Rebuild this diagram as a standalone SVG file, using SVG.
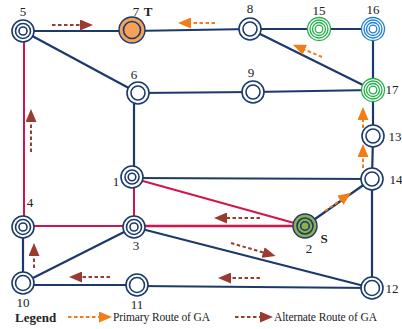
<svg xmlns="http://www.w3.org/2000/svg" width="402" height="329" viewBox="0 0 402 329">
  <style>
    .e { stroke: #1B3A6B; stroke-width: 2.2; fill: none; }
    .r { stroke: #D2164A; stroke-width: 2; fill: none; }
    .ring { fill: #fff; stroke: #1B3A6B; stroke-width: 1.6; }
    .in { fill: none; stroke: #1B3A6B; stroke-width: 1.6; }
    .g { fill: #fff; stroke: #22B04B; stroke-width: 1.3; }
    .gi { fill: none; stroke: #22B04B; stroke-width: 1.3; }
    .b { fill: #fff; stroke: #1E7FD4; stroke-width: 1.3; }
    .bi { fill: none; stroke: #1E7FD4; stroke-width: 1.3; }
    .lbl { font-family: "Liberation Serif", "Times New Roman", serif; font-size: 13px; fill: #222; text-anchor: middle; }
    .bold { font-weight: bold; }
    .pa { stroke: #F07D18; stroke-width: 2; stroke-dasharray: 3.5 2.5; fill: none; marker-end: url(#ha); }
    .aa { stroke: #9A3B32; stroke-width: 2; stroke-dasharray: 3.5 2.5; fill: none; marker-end: url(#hb); }
    .leg { font-family: "Liberation Serif", "Times New Roman", serif; font-size: 11.5px; fill: #222; }
    .legt { font-family: "Liberation Serif", "Times New Roman", serif; font-size: 13px; font-weight: bold; fill: #222; }
  </style>
  <defs>
    <marker id="ha" markerUnits="userSpaceOnUse" markerWidth="13" markerHeight="11" refX="2" refY="5.5" orient="auto">
      <path d="M0,0 L13,5.5 L0,11 Z" fill="#F07D18"/>
    </marker>
    <marker id="hb" markerUnits="userSpaceOnUse" markerWidth="13" markerHeight="11" refX="2" refY="5.5" orient="auto">
      <path d="M0,0 L13,5.5 L0,11 Z" fill="#9A3B32"/>
    </marker>
  </defs>

  <rect width="402" height="329" fill="#fff"/>

  <!-- links -->
  <g id="connectors">
    <line class="e" x1="23" y1="31" x2="132" y2="31"/>
    <line class="e" x1="132" y1="31" x2="250" y2="29"/>
    <line class="e" x1="250" y1="29" x2="319" y2="29"/>
    <line class="e" x1="319" y1="29" x2="373" y2="29"/>
    <line class="e" x1="373" y1="29" x2="373" y2="90"/>
    <line class="e" x1="250" y1="29" x2="373" y2="90"/>
    <line class="e" x1="23" y1="31" x2="138" y2="93"/>
    <line class="e" x1="138" y1="93" x2="253" y2="92"/>
    <line class="e" x1="253" y1="92" x2="373" y2="90"/>
    <line class="e" x1="134" y1="93" x2="134" y2="177"/>
    <line class="e" x1="373" y1="90" x2="373" y2="136"/>
    <line class="e" x1="373" y1="136" x2="372" y2="179"/>
    <line class="e" x1="132" y1="178" x2="372" y2="179"/>
    <line class="e" x1="305" y1="226" x2="372" y2="179"/>
    <line class="e" x1="372" y1="179" x2="372" y2="288"/>
    <line class="e" x1="134" y1="227" x2="372" y2="288"/>
    <line class="e" x1="134" y1="227" x2="23" y2="283"/>
    <line class="e" x1="23" y1="227" x2="23" y2="283"/>
    <line class="e" x1="23" y1="285" x2="137" y2="285"/>
    <line class="e" x1="137" y1="286" x2="372" y2="288"/>
    <line class="r" x1="24" y1="31" x2="24" y2="227"/>
    <line class="r" x1="23" y1="226" x2="134" y2="226"/>
    <line class="r" x1="134" y1="226" x2="305" y2="226" style="stroke-width:2.6"/>
    <line class="r" x1="134" y1="178" x2="134" y2="227"/>
    <line class="r" x1="132" y1="178" x2="305" y2="226"/>
  </g>

  <!-- route arrows -->
  <g id="routes">
    <line class="aa" x1="52" y1="25" x2="82" y2="25"/>
    <line class="aa" x1="31" y1="152" x2="31" y2="120"/>
    <line class="aa" x1="34" y1="268" x2="34" y2="254"/>
    <line class="aa" x1="260" y1="218" x2="225" y2="218"/>
    <line class="aa" x1="231" y1="243" x2="265" y2="253"/>
    <line class="aa" x1="260" y1="278" x2="229" y2="278"/>
    <line class="aa" x1="110" y1="277" x2="80" y2="277"/>
    <line class="pa" x1="215" y1="23" x2="189" y2="23"/>
    <line class="pa" x1="322" y1="57" x2="303" y2="49"/>
    <line class="pa" x1="325" y1="211" x2="342" y2="199"/>
    <line class="pa" x1="363" y1="168" x2="363" y2="155"/>
    <line class="pa" x1="363" y1="128" x2="363" y2="118"/>
  </g>

  <!-- stations -->
  <g id="n5"><circle class="ring" cx="23" cy="31" r="11"/><circle class="in" cx="23" cy="31" r="7.5"/><circle class="in" cx="23" cy="31" r="4"/><text class="lbl" x="23" y="16">5</text></g>
  <g id="n7"><circle cx="132" cy="30" r="13" fill="#F4A15A" stroke="#1B3A6B" stroke-width="1.4"/><circle class="in" cx="132" cy="30" r="8.5"/><text class="lbl" x="136" y="16">7</text><text class="lbl bold" x="148" y="16">T</text></g>
  <g id="n8"><circle class="ring" cx="250" cy="29" r="11"/><circle class="in" cx="250" cy="29" r="7"/><text class="lbl" x="250" y="13">8</text></g>
  <g id="n15"><circle class="g" cx="319" cy="29" r="11.5"/><circle class="gi" cx="319" cy="29" r="9"/><circle class="gi" cx="319" cy="29" r="6.5"/><circle class="gi" cx="319" cy="29" r="3.8"/><text class="lbl" x="319" y="15">15</text></g>
  <g id="n16"><circle class="b" cx="373" cy="29" r="11.5"/><circle class="bi" cx="373" cy="29" r="9"/><circle class="bi" cx="373" cy="29" r="6.5"/><circle class="bi" cx="373" cy="29" r="3.8"/><text class="lbl" x="373" y="14">16</text></g>
  <g id="n17"><circle class="g" cx="373" cy="90" r="11.5"/><circle class="gi" cx="373" cy="90" r="9"/><circle class="gi" cx="373" cy="90" r="6.5"/><circle class="gi" cx="373" cy="90" r="3.8"/><text class="lbl" x="392" y="94">17</text></g>
  <g id="n6"><circle class="ring" cx="138" cy="93" r="11"/><circle class="in" cx="138" cy="93" r="7"/><text class="lbl" x="134" y="79">6</text></g>
  <g id="n9"><circle class="ring" cx="253" cy="92" r="11"/><circle class="in" cx="253" cy="92" r="7"/><text class="lbl" x="251" y="77">9</text></g>
  <g id="n13"><circle class="ring" cx="373" cy="136" r="11"/><circle class="in" cx="373" cy="136" r="7"/><text class="lbl" x="395" y="141">13</text></g>
  <g id="n14"><circle class="ring" cx="372" cy="179" r="11"/><circle class="in" cx="372" cy="179" r="7"/><text class="lbl" x="396" y="184">14</text></g>
  <g id="n1"><circle class="ring" cx="132" cy="177" r="11"/><circle class="in" cx="132" cy="177" r="7"/><circle class="in" cx="132" cy="177" r="3.8"/><text class="lbl" x="116" y="186">1</text></g>
  <g id="n2"><circle cx="305" cy="226" r="12" fill="#8DB04E" stroke="#1B3A6B" stroke-width="1.4"/><circle class="in" cx="305" cy="226" r="8"/><circle class="in" cx="305" cy="226" r="4.3"/><text class="lbl" x="309" y="253">2</text><text class="lbl bold" x="324" y="243">S</text></g>
  <g id="n4"><circle class="ring" cx="23" cy="227" r="11"/><circle class="in" cx="23" cy="227" r="7.5"/><circle class="in" cx="23" cy="227" r="4"/><text class="lbl" x="30" y="207">4</text></g>
  <g id="n3"><circle class="ring" cx="134" cy="227" r="11"/><circle class="in" cx="134" cy="227" r="7.5"/><circle class="in" cx="134" cy="227" r="4"/><text class="lbl" x="136" y="250">3</text></g>
  <g id="n10"><circle class="ring" cx="23" cy="283" r="11"/><circle class="in" cx="23" cy="283" r="7.5"/><text class="lbl" x="23" y="307">10</text></g>
  <g id="n11"><circle class="ring" cx="137" cy="285" r="11"/><circle class="in" cx="137" cy="285" r="7.5"/><text class="lbl" x="137" y="309">11</text></g>
  <g id="n12"><circle class="ring" cx="372" cy="288" r="11"/><circle class="in" cx="372" cy="288" r="7.5"/><text class="lbl" x="392" y="293">12</text></g>

  <!-- key -->
  <g id="legend">
    <text class="legt" x="15" y="322">Legend</text>
    <line class="pa" x1="68" y1="317" x2="101" y2="317"/>
    <text class="leg" x="113" y="321" textLength="97">Primary Route of GA</text>
    <line class="aa" x1="235" y1="317" x2="262" y2="317"/>
    <text class="leg" x="274" y="321" textLength="103">Alternate Route of GA</text>
  </g>
</svg>
